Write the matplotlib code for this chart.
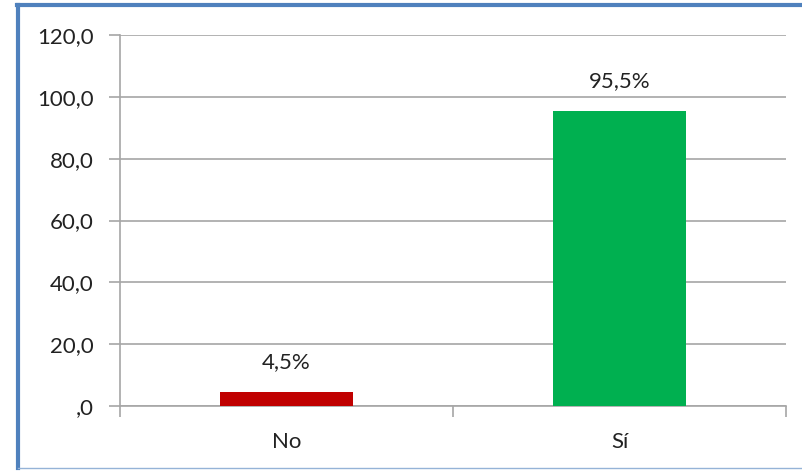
import matplotlib
matplotlib.use("Agg")
import matplotlib.pyplot as plt
from matplotlib.lines import Line2D

plt.rcParams['font.family'] = ['Lato', 'DejaVu Sans']

categories = ["No", "Sí"]
values = [4.5, 95.5]
labels = ["4,5%", "95,5%"]
colors = ["#C00000", "#00B050"]
yticks = [0, 20, 40, 60, 80, 100, 120]

W, H = 803, 472
FS = 16
fig = plt.figure(figsize=(W/100, H/100), dpi=100)
ax = fig.add_axes([120/W, (H-406)/H, (786-120)/W, (406-35)/H])

x = list(range(len(categories)))
ax.bar(x, values, width=0.4, color=colors, zorder=3)
ax.set_xlim(-0.5, len(categories)-0.5)
ax.set_ylim(0, 120)

def fmt(v):
    s = f"{v:.1f}".replace(".", ",")
    if s.startswith("0,"):
        s = s[1:]
    return s

ax.set_yticks(yticks)
ax.set_yticklabels([fmt(v) for v in yticks], fontsize=FS, color="#222222")
ax.yaxis.grid(True, color="#A6A6A6", linewidth=1.2, zorder=0)
ax.set_axisbelow(True)

ax.set_xticks(x)
ax.set_xticklabels(categories, fontsize=FS, color="#222222")
ax.tick_params(axis='x', length=0, pad=19)
ax.set_xticks([-0.5, 0.5, 1.5], minor=True)
ax.tick_params(axis='x', which='minor', length=8, color="#A6A6A6", width=1.2)
ax.tick_params(axis='y', length=8, color="#A6A6A6", width=1.2, pad=11)

for s in ["top", "right"]:
    ax.spines[s].set_visible(False)
for s in ["left", "bottom"]:
    ax.spines[s].set_color("#A6A6A6")
    ax.spines[s].set_linewidth(1.2)

for xi, v, lab in zip(x, values, labels):
    ax.annotate(lab, (xi, v), xytext=(0, 17), textcoords="offset points",
                ha="center", va="baseline", fontsize=FS, color="#222222")

# figure border
fig.add_artist(Line2D([18.5/W, 18.5/W], [1-4.5/H, 1-468/H], transform=fig.transFigure,
                      color="#4F81BD", linewidth=3))
fig.add_artist(Line2D([17/W, 1.0], [1-4.5/H, 1-4.5/H], transform=fig.transFigure,
                      color="#4F81BD", linewidth=3))
fig.add_artist(Line2D([18.5/W, 1.0], [1-468/H, 1-468/H], transform=fig.transFigure,
                      color="#95B3D7", linewidth=1))

fig.savefig("out.png", dpi=100)
